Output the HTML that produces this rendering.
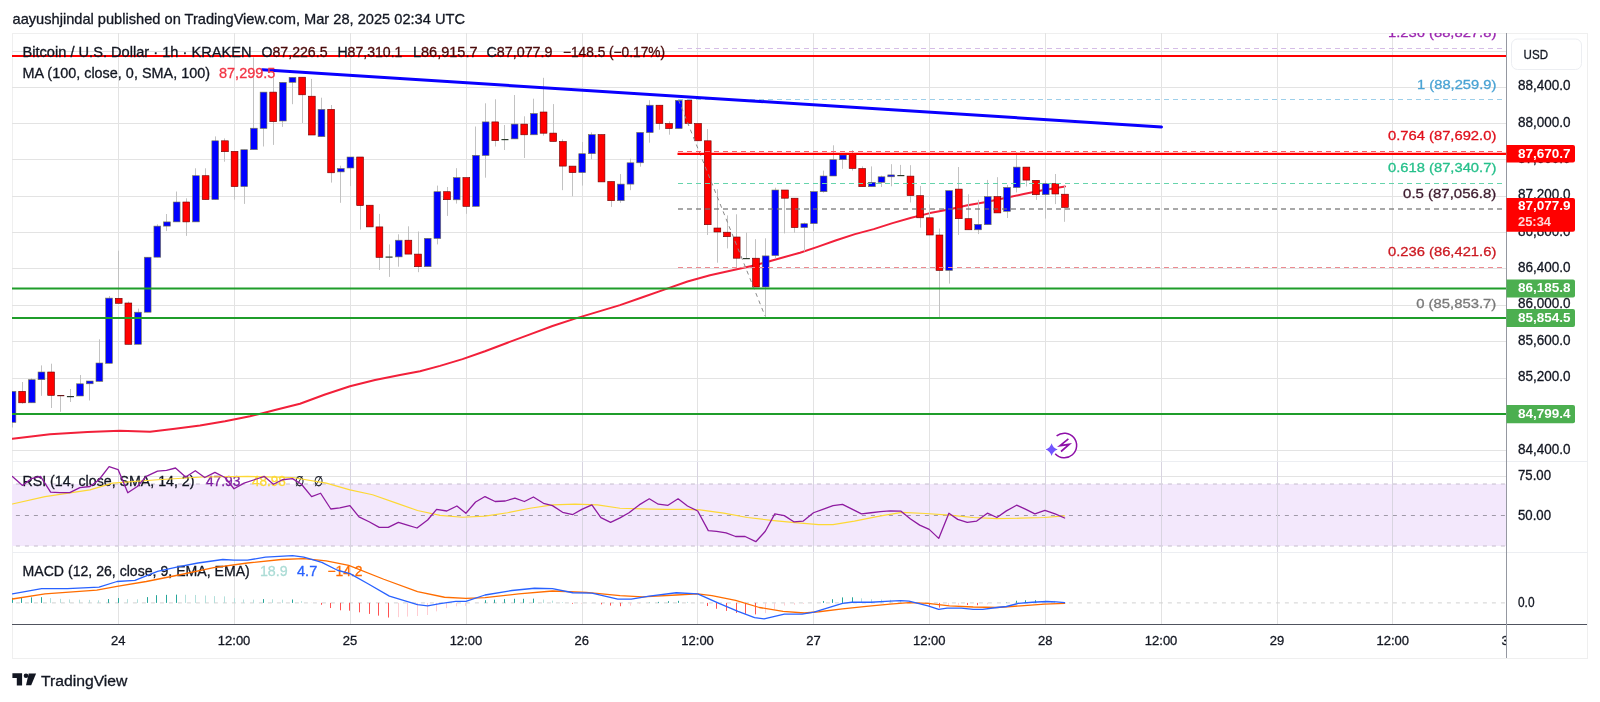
<!DOCTYPE html>
<html><head><meta charset="utf-8"><title>TradingView BTCUSD</title>
<style>html,body{margin:0;padding:0;background:#fff;width:1600px;height:702px;overflow:hidden}</style>
</head><body>
<svg width="1600" height="702" viewBox="0 0 1600 702" style="display:block;font-family:'Liberation Sans', sans-serif;will-change:transform">
<defs>
<clipPath id="main"><rect x="12" y="33" width="1494.5" height="428.5"/></clipPath>
<clipPath id="rsi"><rect x="12" y="461.5" width="1494.5" height="91.0"/></clipPath>
<clipPath id="macd"><rect x="12" y="552.5" width="1494.5" height="72.0"/></clipPath>
<clipPath id="taxis"><rect x="12" y="624.5" width="1494.5" height="33.5"/></clipPath>
</defs>
<rect width="1600" height="702" fill="#ffffff"/>
<text x="12.5" y="23.8" font-size="14.5" fill="#131722" stroke="#131722" stroke-width="0.3" text-anchor="start" font-weight="normal" textLength="452.5" lengthAdjust="spacingAndGlyphs">aayushjindal published on TradingView.com, Mar 28, 2025 02:34 UTC</text>
<rect x="12.5" y="33.5" width="1575" height="625" fill="none" stroke="#efefef" stroke-width="1"/>
<line x1="12" y1="51.5" x2="1506.5" y2="51.5" stroke="#e3e3e3" stroke-width="1"/>
<line x1="12" y1="87.5" x2="1506.5" y2="87.5" stroke="#e3e3e3" stroke-width="1"/>
<line x1="12" y1="123.5" x2="1506.5" y2="123.5" stroke="#e3e3e3" stroke-width="1"/>
<line x1="12" y1="159.5" x2="1506.5" y2="159.5" stroke="#e3e3e3" stroke-width="1"/>
<line x1="12" y1="196.5" x2="1506.5" y2="196.5" stroke="#e3e3e3" stroke-width="1"/>
<line x1="12" y1="232.5" x2="1506.5" y2="232.5" stroke="#e3e3e3" stroke-width="1"/>
<line x1="12" y1="268.5" x2="1506.5" y2="268.5" stroke="#e3e3e3" stroke-width="1"/>
<line x1="12" y1="305.5" x2="1506.5" y2="305.5" stroke="#e3e3e3" stroke-width="1"/>
<line x1="12" y1="341.5" x2="1506.5" y2="341.5" stroke="#e3e3e3" stroke-width="1"/>
<line x1="12" y1="378.5" x2="1506.5" y2="378.5" stroke="#e3e3e3" stroke-width="1"/>
<line x1="12" y1="414.5" x2="1506.5" y2="414.5" stroke="#e3e3e3" stroke-width="1"/>
<line x1="12" y1="450.5" x2="1506.5" y2="450.5" stroke="#e3e3e3" stroke-width="1"/>
<line x1="118.5" y1="33" x2="118.5" y2="624.5" stroke="#e3e3e3" stroke-width="1"/>
<line x1="234.5" y1="33" x2="234.5" y2="624.5" stroke="#e3e3e3" stroke-width="1"/>
<line x1="350.5" y1="33" x2="350.5" y2="624.5" stroke="#e3e3e3" stroke-width="1"/>
<line x1="466.5" y1="33" x2="466.5" y2="624.5" stroke="#e3e3e3" stroke-width="1"/>
<line x1="582.5" y1="33" x2="582.5" y2="624.5" stroke="#e3e3e3" stroke-width="1"/>
<line x1="697.5" y1="33" x2="697.5" y2="624.5" stroke="#e3e3e3" stroke-width="1"/>
<line x1="813.5" y1="33" x2="813.5" y2="624.5" stroke="#e3e3e3" stroke-width="1"/>
<line x1="929.5" y1="33" x2="929.5" y2="624.5" stroke="#e3e3e3" stroke-width="1"/>
<line x1="1045.5" y1="33" x2="1045.5" y2="624.5" stroke="#e3e3e3" stroke-width="1"/>
<line x1="1161.5" y1="33" x2="1161.5" y2="624.5" stroke="#e3e3e3" stroke-width="1"/>
<line x1="1277.5" y1="33" x2="1277.5" y2="624.5" stroke="#e3e3e3" stroke-width="1"/>
<line x1="1392.5" y1="33" x2="1392.5" y2="624.5" stroke="#e3e3e3" stroke-width="1"/>
<line x1="12" y1="476.5" x2="1506.5" y2="476.5" stroke="#e3e3e3" stroke-width="1"/>
<line x1="12" y1="461.5" x2="1588" y2="461.5" stroke="#eceef2" stroke-width="1"/>
<line x1="12" y1="552.5" x2="1588" y2="552.5" stroke="#eceef2" stroke-width="1"/>
<g clip-path="url(#main)">
<polyline points="12.50,438.75 50.00,434.25 87.50,432.00 120.00,430.75 150.00,431.75 175.00,428.75 200.00,425.50 225.00,421.25 250.00,416.25 262.50,413.25 275.00,410.00 300.00,403.75 325.00,394.50 350.00,386.25 375.00,380.00 400.00,375.00 420.00,371.20 440.00,365.90 462.50,359.10 485.00,351.25 507.50,342.70 530.00,334.40 552.50,326.05 575.00,318.60 597.50,311.90 620.00,305.10 642.50,297.25 665.00,289.40 687.50,281.50 710.00,275.20 732.50,270.25 755.00,265.30 777.50,259.00 800.00,252.70 817.50,246.90 836.25,240.30 855.00,234.10 873.75,229.10 892.50,223.10 911.25,217.80 930.00,213.10 948.75,209.40 967.50,205.25 986.25,201.90 1005.00,198.10 1023.75,194.00 1042.50,190.25 1065.00,186.50" fill="none" stroke="#f2203a" stroke-width="2.0" stroke-linejoin="round" stroke-linecap="round"/>
<line x1="12.5" y1="391.3" x2="12.5" y2="427.5" stroke="#c2c2c2" stroke-width="1"/>
<rect x="9.08" y="391.3" width="6.8" height="31.10" fill="#0000ff" stroke="#7d7d48" stroke-width="0.6"/>
<line x1="22.5" y1="382.0" x2="22.5" y2="403.7" stroke="#c2c2c2" stroke-width="1"/>
<rect x="18.74" y="391.3" width="6.8" height="11.50" fill="#ff0000" stroke="#6a0000" stroke-width="0.6"/>
<line x1="31.5" y1="378.2" x2="31.5" y2="402.8" stroke="#c2c2c2" stroke-width="1"/>
<rect x="28.40" y="379.7" width="6.8" height="23.10" fill="#0000ff" stroke="#7d7d48" stroke-width="0.6"/>
<line x1="41.5" y1="365.4" x2="41.5" y2="395.8" stroke="#c2c2c2" stroke-width="1"/>
<rect x="38.05" y="372.0" width="6.8" height="7.70" fill="#0000ff" stroke="#7d7d48" stroke-width="0.6"/>
<line x1="51.5" y1="363.7" x2="51.5" y2="408.0" stroke="#c2c2c2" stroke-width="1"/>
<rect x="47.71" y="372.0" width="6.8" height="23.40" fill="#ff0000" stroke="#6a0000" stroke-width="0.6"/>
<line x1="60.5" y1="395.0" x2="60.5" y2="411.8" stroke="#c2c2c2" stroke-width="1"/>
<rect x="57.26" y="395.0" width="7" height="1.2" fill="#6a1a1a"/>
<line x1="70.5" y1="389.0" x2="70.5" y2="402.0" stroke="#c2c2c2" stroke-width="1"/>
<rect x="66.92" y="396.0" width="7" height="1.2" fill="#2b3b2b"/>
<line x1="80.5" y1="375.0" x2="80.5" y2="396.0" stroke="#c2c2c2" stroke-width="1"/>
<rect x="76.68" y="383.8" width="6.8" height="12.20" fill="#0000ff" stroke="#7d7d48" stroke-width="0.6"/>
<line x1="89.5" y1="381.0" x2="89.5" y2="400.5" stroke="#c2c2c2" stroke-width="1"/>
<rect x="86.33" y="381.0" width="6.8" height="2.80" fill="#0000ff" stroke="#7d7d48" stroke-width="0.6"/>
<line x1="99.5" y1="339.3" x2="99.5" y2="381.4" stroke="#c2c2c2" stroke-width="1"/>
<rect x="95.99" y="363.0" width="6.8" height="18.40" fill="#0000ff" stroke="#7d7d48" stroke-width="0.6"/>
<line x1="109.5" y1="296.0" x2="109.5" y2="363.3" stroke="#c2c2c2" stroke-width="1"/>
<rect x="105.64" y="298.1" width="6.8" height="65.20" fill="#0000ff" stroke="#7d7d48" stroke-width="0.6"/>
<line x1="118.5" y1="250.7" x2="118.5" y2="303.3" stroke="#c2c2c2" stroke-width="1"/>
<rect x="115.30" y="298.3" width="6.8" height="5.00" fill="#ff0000" stroke="#6a0000" stroke-width="0.6"/>
<line x1="128.5" y1="301.6" x2="128.5" y2="344.3" stroke="#c2c2c2" stroke-width="1"/>
<rect x="124.96" y="303.0" width="6.8" height="41.30" fill="#ff0000" stroke="#6a0000" stroke-width="0.6"/>
<line x1="138.5" y1="308.6" x2="138.5" y2="344.3" stroke="#c2c2c2" stroke-width="1"/>
<rect x="134.61" y="312.2" width="6.8" height="32.10" fill="#0000ff" stroke="#7d7d48" stroke-width="0.6"/>
<line x1="147.5" y1="257.0" x2="147.5" y2="312.2" stroke="#c2c2c2" stroke-width="1"/>
<rect x="144.27" y="257.2" width="6.8" height="55.00" fill="#0000ff" stroke="#7d7d48" stroke-width="0.6"/>
<line x1="157.5" y1="224.3" x2="157.5" y2="257.2" stroke="#c2c2c2" stroke-width="1"/>
<rect x="153.92" y="226.1" width="6.8" height="31.10" fill="#0000ff" stroke="#7d7d48" stroke-width="0.6"/>
<line x1="166.5" y1="214.0" x2="166.5" y2="231.1" stroke="#c2c2c2" stroke-width="1"/>
<rect x="163.58" y="221.9" width="6.8" height="4.20" fill="#0000ff" stroke="#7d7d48" stroke-width="0.6"/>
<line x1="176.5" y1="191.5" x2="176.5" y2="221.9" stroke="#c2c2c2" stroke-width="1"/>
<rect x="173.24" y="202.0" width="6.8" height="19.90" fill="#0000ff" stroke="#7d7d48" stroke-width="0.6"/>
<line x1="186.5" y1="198.3" x2="186.5" y2="235.9" stroke="#c2c2c2" stroke-width="1"/>
<rect x="182.89" y="202.0" width="6.8" height="19.90" fill="#ff0000" stroke="#6a0000" stroke-width="0.6"/>
<line x1="195.5" y1="168.3" x2="195.5" y2="221.9" stroke="#c2c2c2" stroke-width="1"/>
<rect x="192.55" y="175.7" width="6.8" height="46.20" fill="#0000ff" stroke="#7d7d48" stroke-width="0.6"/>
<line x1="205.5" y1="168.3" x2="205.5" y2="199.6" stroke="#c2c2c2" stroke-width="1"/>
<rect x="202.20" y="175.7" width="6.8" height="23.90" fill="#ff0000" stroke="#6a0000" stroke-width="0.6"/>
<line x1="215.5" y1="136.4" x2="215.5" y2="199.6" stroke="#c2c2c2" stroke-width="1"/>
<rect x="211.86" y="140.8" width="6.8" height="58.80" fill="#0000ff" stroke="#7d7d48" stroke-width="0.6"/>
<line x1="224.5" y1="138.4" x2="224.5" y2="161.7" stroke="#c2c2c2" stroke-width="1"/>
<rect x="221.52" y="140.8" width="6.8" height="10.90" fill="#ff0000" stroke="#6a0000" stroke-width="0.6"/>
<line x1="234.5" y1="151.3" x2="234.5" y2="199.6" stroke="#c2c2c2" stroke-width="1"/>
<rect x="231.17" y="151.3" width="6.8" height="35.30" fill="#ff0000" stroke="#6a0000" stroke-width="0.6"/>
<line x1="244.5" y1="149.7" x2="244.5" y2="203.9" stroke="#c2c2c2" stroke-width="1"/>
<rect x="240.83" y="149.7" width="6.8" height="36.90" fill="#0000ff" stroke="#7d7d48" stroke-width="0.6"/>
<line x1="253.5" y1="57.3" x2="253.5" y2="149.7" stroke="#c2c2c2" stroke-width="1"/>
<rect x="250.48" y="128.2" width="6.8" height="21.50" fill="#0000ff" stroke="#7d7d48" stroke-width="0.6"/>
<line x1="263.5" y1="92.1" x2="263.5" y2="146.5" stroke="#c2c2c2" stroke-width="1"/>
<rect x="260.14" y="92.1" width="6.8" height="36.40" fill="#0000ff" stroke="#7d7d48" stroke-width="0.6"/>
<line x1="273.5" y1="77.6" x2="273.5" y2="144.9" stroke="#c2c2c2" stroke-width="1"/>
<rect x="269.80" y="92.1" width="6.8" height="29.60" fill="#ff0000" stroke="#6a0000" stroke-width="0.6"/>
<line x1="282.5" y1="82.3" x2="282.5" y2="126.9" stroke="#c2c2c2" stroke-width="1"/>
<rect x="279.45" y="82.3" width="6.8" height="38.70" fill="#0000ff" stroke="#7d7d48" stroke-width="0.6"/>
<line x1="292.5" y1="77.3" x2="292.5" y2="104.2" stroke="#c2c2c2" stroke-width="1"/>
<rect x="289.11" y="77.3" width="6.8" height="5.00" fill="#0000ff" stroke="#7d7d48" stroke-width="0.6"/>
<line x1="302.5" y1="77.2" x2="302.5" y2="123.0" stroke="#c2c2c2" stroke-width="1"/>
<rect x="298.76" y="77.2" width="6.8" height="17.60" fill="#ff0000" stroke="#6a0000" stroke-width="0.6"/>
<line x1="311.5" y1="78.9" x2="311.5" y2="135.0" stroke="#c2c2c2" stroke-width="1"/>
<rect x="308.42" y="96.2" width="6.8" height="38.80" fill="#ff0000" stroke="#6a0000" stroke-width="0.6"/>
<line x1="321.5" y1="97.7" x2="321.5" y2="136.7" stroke="#c2c2c2" stroke-width="1"/>
<rect x="318.08" y="109.3" width="6.8" height="27.40" fill="#0000ff" stroke="#7d7d48" stroke-width="0.6"/>
<line x1="331.5" y1="105.0" x2="331.5" y2="182.6" stroke="#c2c2c2" stroke-width="1"/>
<rect x="327.73" y="109.3" width="6.8" height="63.50" fill="#ff0000" stroke="#6a0000" stroke-width="0.6"/>
<line x1="340.5" y1="165.7" x2="340.5" y2="202.8" stroke="#c2c2c2" stroke-width="1"/>
<rect x="337.39" y="168.5" width="6.8" height="3.40" fill="#0000ff" stroke="#7d7d48" stroke-width="0.6"/>
<line x1="350.5" y1="157.0" x2="350.5" y2="186.1" stroke="#c2c2c2" stroke-width="1"/>
<rect x="347.04" y="157.0" width="6.8" height="11.00" fill="#0000ff" stroke="#7d7d48" stroke-width="0.6"/>
<line x1="360.5" y1="157.0" x2="360.5" y2="229.6" stroke="#c2c2c2" stroke-width="1"/>
<rect x="356.70" y="157.0" width="6.8" height="48.60" fill="#ff0000" stroke="#6a0000" stroke-width="0.6"/>
<line x1="369.5" y1="205.2" x2="369.5" y2="226.9" stroke="#c2c2c2" stroke-width="1"/>
<rect x="366.36" y="205.2" width="6.8" height="21.70" fill="#ff0000" stroke="#6a0000" stroke-width="0.6"/>
<line x1="379.5" y1="213.9" x2="379.5" y2="270.0" stroke="#c2c2c2" stroke-width="1"/>
<rect x="376.01" y="226.9" width="6.8" height="30.50" fill="#ff0000" stroke="#6a0000" stroke-width="0.6"/>
<line x1="389.5" y1="244.4" x2="389.5" y2="276.9" stroke="#c2c2c2" stroke-width="1"/>
<rect x="385.57" y="256.5" width="7" height="1.2" fill="#2b3b2b"/>
<line x1="398.5" y1="234.3" x2="398.5" y2="266.7" stroke="#c2c2c2" stroke-width="1"/>
<rect x="395.32" y="240.2" width="6.8" height="16.70" fill="#0000ff" stroke="#7d7d48" stroke-width="0.6"/>
<line x1="408.5" y1="226.3" x2="408.5" y2="254.1" stroke="#c2c2c2" stroke-width="1"/>
<rect x="404.98" y="240.2" width="6.8" height="13.90" fill="#ff0000" stroke="#6a0000" stroke-width="0.6"/>
<line x1="418.5" y1="231.5" x2="418.5" y2="272.2" stroke="#c2c2c2" stroke-width="1"/>
<rect x="414.64" y="254.1" width="6.8" height="12.60" fill="#ff0000" stroke="#6a0000" stroke-width="0.6"/>
<line x1="427.5" y1="238.3" x2="427.5" y2="266.7" stroke="#c2c2c2" stroke-width="1"/>
<rect x="424.29" y="238.3" width="6.8" height="28.40" fill="#0000ff" stroke="#7d7d48" stroke-width="0.6"/>
<line x1="437.5" y1="185.6" x2="437.5" y2="244.4" stroke="#c2c2c2" stroke-width="1"/>
<rect x="433.95" y="191.7" width="6.8" height="46.80" fill="#0000ff" stroke="#7d7d48" stroke-width="0.6"/>
<line x1="447.5" y1="187.0" x2="447.5" y2="215.9" stroke="#c2c2c2" stroke-width="1"/>
<rect x="443.60" y="191.7" width="6.8" height="8.00" fill="#ff0000" stroke="#6a0000" stroke-width="0.6"/>
<line x1="456.5" y1="168.2" x2="456.5" y2="203.6" stroke="#c2c2c2" stroke-width="1"/>
<rect x="453.26" y="177.6" width="6.8" height="22.20" fill="#0000ff" stroke="#7d7d48" stroke-width="0.6"/>
<line x1="466.5" y1="177.6" x2="466.5" y2="213.8" stroke="#c2c2c2" stroke-width="1"/>
<rect x="462.92" y="177.6" width="6.8" height="28.80" fill="#ff0000" stroke="#6a0000" stroke-width="0.6"/>
<line x1="475.5" y1="126.5" x2="475.5" y2="206.4" stroke="#c2c2c2" stroke-width="1"/>
<rect x="472.57" y="155.3" width="6.8" height="51.10" fill="#0000ff" stroke="#7d7d48" stroke-width="0.6"/>
<line x1="485.5" y1="103.3" x2="485.5" y2="177.7" stroke="#c2c2c2" stroke-width="1"/>
<rect x="482.23" y="121.9" width="6.8" height="33.60" fill="#0000ff" stroke="#7d7d48" stroke-width="0.6"/>
<line x1="495.5" y1="99.3" x2="495.5" y2="146.5" stroke="#c2c2c2" stroke-width="1"/>
<rect x="491.88" y="121.9" width="6.8" height="18.80" fill="#ff0000" stroke="#6a0000" stroke-width="0.6"/>
<line x1="504.5" y1="125.0" x2="504.5" y2="150.0" stroke="#c2c2c2" stroke-width="1"/>
<rect x="501.44" y="139.0" width="7" height="1.2" fill="#2b3b2b"/>
<line x1="514.5" y1="95.0" x2="514.5" y2="138.9" stroke="#c2c2c2" stroke-width="1"/>
<rect x="511.20" y="124.1" width="6.8" height="14.80" fill="#0000ff" stroke="#7d7d48" stroke-width="0.6"/>
<line x1="524.5" y1="116.3" x2="524.5" y2="158.0" stroke="#c2c2c2" stroke-width="1"/>
<rect x="520.85" y="124.1" width="6.8" height="10.70" fill="#ff0000" stroke="#6a0000" stroke-width="0.6"/>
<line x1="533.5" y1="98.7" x2="533.5" y2="134.8" stroke="#c2c2c2" stroke-width="1"/>
<rect x="530.51" y="113.5" width="6.8" height="21.30" fill="#0000ff" stroke="#7d7d48" stroke-width="0.6"/>
<line x1="543.5" y1="77.8" x2="543.5" y2="135.7" stroke="#c2c2c2" stroke-width="1"/>
<rect x="540.16" y="112.0" width="6.8" height="21.20" fill="#ff0000" stroke="#6a0000" stroke-width="0.6"/>
<line x1="553.5" y1="104.1" x2="553.5" y2="141.5" stroke="#c2c2c2" stroke-width="1"/>
<rect x="549.82" y="133.1" width="6.8" height="8.40" fill="#ff0000" stroke="#6a0000" stroke-width="0.6"/>
<line x1="562.5" y1="139.3" x2="562.5" y2="190.2" stroke="#c2c2c2" stroke-width="1"/>
<rect x="559.48" y="141.5" width="6.8" height="24.60" fill="#ff0000" stroke="#6a0000" stroke-width="0.6"/>
<line x1="572.5" y1="166.1" x2="572.5" y2="196.3" stroke="#c2c2c2" stroke-width="1"/>
<rect x="569.13" y="166.1" width="6.8" height="6.50" fill="#ff0000" stroke="#6a0000" stroke-width="0.6"/>
<line x1="582.5" y1="142.0" x2="582.5" y2="185.6" stroke="#c2c2c2" stroke-width="1"/>
<rect x="578.79" y="153.7" width="6.8" height="18.90" fill="#0000ff" stroke="#7d7d48" stroke-width="0.6"/>
<line x1="591.5" y1="132.4" x2="591.5" y2="159.3" stroke="#c2c2c2" stroke-width="1"/>
<rect x="588.44" y="134.6" width="6.8" height="19.10" fill="#0000ff" stroke="#7d7d48" stroke-width="0.6"/>
<line x1="601.5" y1="134.6" x2="601.5" y2="181.9" stroke="#c2c2c2" stroke-width="1"/>
<rect x="598.10" y="134.6" width="6.8" height="47.30" fill="#ff0000" stroke="#6a0000" stroke-width="0.6"/>
<line x1="611.5" y1="181.5" x2="611.5" y2="206.9" stroke="#c2c2c2" stroke-width="1"/>
<rect x="607.76" y="181.5" width="6.8" height="19.20" fill="#ff0000" stroke="#6a0000" stroke-width="0.6"/>
<line x1="620.5" y1="174.0" x2="620.5" y2="202.8" stroke="#c2c2c2" stroke-width="1"/>
<rect x="617.41" y="184.1" width="6.8" height="16.60" fill="#0000ff" stroke="#7d7d48" stroke-width="0.6"/>
<line x1="630.5" y1="158.7" x2="630.5" y2="190.2" stroke="#c2c2c2" stroke-width="1"/>
<rect x="627.07" y="162.8" width="6.8" height="21.30" fill="#0000ff" stroke="#7d7d48" stroke-width="0.6"/>
<line x1="640.5" y1="132.4" x2="640.5" y2="166.7" stroke="#c2c2c2" stroke-width="1"/>
<rect x="636.72" y="132.4" width="6.8" height="30.40" fill="#0000ff" stroke="#7d7d48" stroke-width="0.6"/>
<line x1="649.5" y1="100.2" x2="649.5" y2="142.7" stroke="#c2c2c2" stroke-width="1"/>
<rect x="646.38" y="105.2" width="6.8" height="27.40" fill="#0000ff" stroke="#7d7d48" stroke-width="0.6"/>
<line x1="659.5" y1="105.2" x2="659.5" y2="129.7" stroke="#c2c2c2" stroke-width="1"/>
<rect x="656.04" y="105.2" width="6.8" height="18.30" fill="#ff0000" stroke="#6a0000" stroke-width="0.6"/>
<line x1="669.5" y1="121.3" x2="669.5" y2="134.7" stroke="#c2c2c2" stroke-width="1"/>
<rect x="665.69" y="123.5" width="6.8" height="5.10" fill="#ff0000" stroke="#6a0000" stroke-width="0.6"/>
<line x1="678.5" y1="100.3" x2="678.5" y2="128.6" stroke="#c2c2c2" stroke-width="1"/>
<rect x="675.35" y="100.3" width="6.8" height="28.30" fill="#0000ff" stroke="#7d7d48" stroke-width="0.6"/>
<line x1="688.5" y1="100.3" x2="688.5" y2="123.5" stroke="#c2c2c2" stroke-width="1"/>
<rect x="685.00" y="100.3" width="6.8" height="23.20" fill="#ff0000" stroke="#6a0000" stroke-width="0.6"/>
<line x1="698.5" y1="123.5" x2="698.5" y2="140.8" stroke="#c2c2c2" stroke-width="1"/>
<rect x="694.66" y="123.5" width="6.8" height="17.30" fill="#ff0000" stroke="#6a0000" stroke-width="0.6"/>
<line x1="707.5" y1="129.0" x2="707.5" y2="235.0" stroke="#c2c2c2" stroke-width="1"/>
<rect x="704.32" y="140.8" width="6.8" height="83.90" fill="#ff0000" stroke="#6a0000" stroke-width="0.6"/>
<line x1="717.5" y1="189.2" x2="717.5" y2="262.7" stroke="#c2c2c2" stroke-width="1"/>
<rect x="713.97" y="228.0" width="6.8" height="4.00" fill="#ff0000" stroke="#6a0000" stroke-width="0.6"/>
<line x1="727.5" y1="215.4" x2="727.5" y2="248.4" stroke="#c2c2c2" stroke-width="1"/>
<rect x="723.63" y="232.2" width="6.8" height="4.50" fill="#ff0000" stroke="#6a0000" stroke-width="0.6"/>
<line x1="736.5" y1="214.3" x2="736.5" y2="267.6" stroke="#c2c2c2" stroke-width="1"/>
<rect x="733.28" y="237.0" width="6.8" height="21.20" fill="#ff0000" stroke="#6a0000" stroke-width="0.6"/>
<line x1="746.5" y1="232.7" x2="746.5" y2="259.0" stroke="#c2c2c2" stroke-width="1"/>
<rect x="742.84" y="258.0" width="7" height="1.2" fill="#2b3b2b"/>
<line x1="755.5" y1="239.2" x2="755.5" y2="287.0" stroke="#c2c2c2" stroke-width="1"/>
<rect x="752.60" y="258.2" width="6.8" height="28.80" fill="#ff0000" stroke="#6a0000" stroke-width="0.6"/>
<line x1="765.5" y1="238.3" x2="765.5" y2="317.0" stroke="#c2c2c2" stroke-width="1"/>
<rect x="762.25" y="255.9" width="6.8" height="31.10" fill="#0000ff" stroke="#7d7d48" stroke-width="0.6"/>
<line x1="775.5" y1="187.7" x2="775.5" y2="258.6" stroke="#c2c2c2" stroke-width="1"/>
<rect x="771.91" y="190.0" width="6.8" height="65.60" fill="#0000ff" stroke="#7d7d48" stroke-width="0.6"/>
<line x1="784.5" y1="190.0" x2="784.5" y2="233.4" stroke="#c2c2c2" stroke-width="1"/>
<rect x="781.56" y="190.0" width="6.8" height="8.20" fill="#ff0000" stroke="#6a0000" stroke-width="0.6"/>
<line x1="794.5" y1="198.2" x2="794.5" y2="232.7" stroke="#c2c2c2" stroke-width="1"/>
<rect x="791.22" y="198.2" width="6.8" height="29.40" fill="#ff0000" stroke="#6a0000" stroke-width="0.6"/>
<line x1="804.5" y1="222.5" x2="804.5" y2="251.4" stroke="#c2c2c2" stroke-width="1"/>
<rect x="800.88" y="223.7" width="6.8" height="3.90" fill="#0000ff" stroke="#7d7d48" stroke-width="0.6"/>
<line x1="813.5" y1="191.6" x2="813.5" y2="231.2" stroke="#c2c2c2" stroke-width="1"/>
<rect x="810.53" y="191.6" width="6.8" height="32.00" fill="#0000ff" stroke="#7d7d48" stroke-width="0.6"/>
<line x1="823.5" y1="170.6" x2="823.5" y2="192.7" stroke="#c2c2c2" stroke-width="1"/>
<rect x="820.19" y="176.0" width="6.8" height="15.70" fill="#0000ff" stroke="#7d7d48" stroke-width="0.6"/>
<line x1="833.5" y1="145.3" x2="833.5" y2="176.0" stroke="#c2c2c2" stroke-width="1"/>
<rect x="829.84" y="159.7" width="6.8" height="16.30" fill="#0000ff" stroke="#7d7d48" stroke-width="0.6"/>
<line x1="842.5" y1="154.0" x2="842.5" y2="168.8" stroke="#c2c2c2" stroke-width="1"/>
<rect x="839.50" y="155.0" width="6.8" height="4.70" fill="#0000ff" stroke="#7d7d48" stroke-width="0.6"/>
<line x1="852.5" y1="150.0" x2="852.5" y2="170.6" stroke="#c2c2c2" stroke-width="1"/>
<rect x="849.16" y="154.2" width="6.8" height="14.30" fill="#ff0000" stroke="#6a0000" stroke-width="0.6"/>
<line x1="862.5" y1="166.4" x2="862.5" y2="186.7" stroke="#c2c2c2" stroke-width="1"/>
<rect x="858.81" y="168.5" width="6.8" height="18.20" fill="#ff0000" stroke="#6a0000" stroke-width="0.6"/>
<line x1="871.5" y1="166.4" x2="871.5" y2="186.7" stroke="#c2c2c2" stroke-width="1"/>
<rect x="868.47" y="182.3" width="6.8" height="4.40" fill="#0000ff" stroke="#7d7d48" stroke-width="0.6"/>
<line x1="881.5" y1="175.6" x2="881.5" y2="187.0" stroke="#c2c2c2" stroke-width="1"/>
<rect x="878.12" y="176.8" width="6.8" height="5.50" fill="#0000ff" stroke="#7d7d48" stroke-width="0.6"/>
<line x1="891.5" y1="164.2" x2="891.5" y2="186.3" stroke="#c2c2c2" stroke-width="1"/>
<rect x="887.78" y="174.9" width="6.8" height="1.90" fill="#0000ff" stroke="#7d7d48" stroke-width="0.6"/>
<line x1="900.5" y1="164.9" x2="900.5" y2="176.0" stroke="#c2c2c2" stroke-width="1"/>
<rect x="897.34" y="175.0" width="7" height="1.2" fill="#2b3b2b"/>
<line x1="910.5" y1="165.2" x2="910.5" y2="202.5" stroke="#c2c2c2" stroke-width="1"/>
<rect x="907.09" y="176.1" width="6.8" height="19.50" fill="#ff0000" stroke="#6a0000" stroke-width="0.6"/>
<line x1="920.5" y1="185.9" x2="920.5" y2="227.6" stroke="#c2c2c2" stroke-width="1"/>
<rect x="916.75" y="195.6" width="6.8" height="22.20" fill="#ff0000" stroke="#6a0000" stroke-width="0.6"/>
<line x1="929.5" y1="204.4" x2="929.5" y2="235.0" stroke="#c2c2c2" stroke-width="1"/>
<rect x="926.40" y="217.8" width="6.8" height="17.20" fill="#ff0000" stroke="#6a0000" stroke-width="0.6"/>
<line x1="939.5" y1="228.5" x2="939.5" y2="317.2" stroke="#c2c2c2" stroke-width="1"/>
<rect x="936.06" y="235.0" width="6.8" height="35.50" fill="#ff0000" stroke="#6a0000" stroke-width="0.6"/>
<line x1="949.5" y1="190.6" x2="949.5" y2="283.6" stroke="#c2c2c2" stroke-width="1"/>
<rect x="945.72" y="190.6" width="6.8" height="79.90" fill="#0000ff" stroke="#7d7d48" stroke-width="0.6"/>
<line x1="958.5" y1="167.0" x2="958.5" y2="235.0" stroke="#c2c2c2" stroke-width="1"/>
<rect x="955.37" y="189.1" width="6.8" height="29.60" fill="#ff0000" stroke="#6a0000" stroke-width="0.6"/>
<line x1="968.5" y1="194.3" x2="968.5" y2="229.8" stroke="#c2c2c2" stroke-width="1"/>
<rect x="965.03" y="218.7" width="6.8" height="11.10" fill="#ff0000" stroke="#6a0000" stroke-width="0.6"/>
<line x1="978.5" y1="199.8" x2="978.5" y2="234.1" stroke="#c2c2c2" stroke-width="1"/>
<rect x="974.68" y="224.3" width="6.8" height="5.50" fill="#0000ff" stroke="#7d7d48" stroke-width="0.6"/>
<line x1="987.5" y1="179.9" x2="987.5" y2="224.7" stroke="#c2c2c2" stroke-width="1"/>
<rect x="984.34" y="196.6" width="6.8" height="28.10" fill="#0000ff" stroke="#7d7d48" stroke-width="0.6"/>
<line x1="997.5" y1="177.2" x2="997.5" y2="212.9" stroke="#c2c2c2" stroke-width="1"/>
<rect x="994.00" y="196.6" width="6.8" height="16.30" fill="#ff0000" stroke="#6a0000" stroke-width="0.6"/>
<line x1="1007.5" y1="184.9" x2="1007.5" y2="218.0" stroke="#c2c2c2" stroke-width="1"/>
<rect x="1003.65" y="187.4" width="6.8" height="23.90" fill="#0000ff" stroke="#7d7d48" stroke-width="0.6"/>
<line x1="1016.5" y1="152.4" x2="1016.5" y2="192.4" stroke="#c2c2c2" stroke-width="1"/>
<rect x="1013.31" y="167.1" width="6.8" height="20.50" fill="#0000ff" stroke="#7d7d48" stroke-width="0.6"/>
<line x1="1026.5" y1="167.1" x2="1026.5" y2="186.5" stroke="#c2c2c2" stroke-width="1"/>
<rect x="1022.96" y="167.1" width="6.8" height="13.00" fill="#ff0000" stroke="#6a0000" stroke-width="0.6"/>
<line x1="1036.5" y1="180.3" x2="1036.5" y2="199.9" stroke="#c2c2c2" stroke-width="1"/>
<rect x="1032.62" y="180.3" width="6.8" height="14.40" fill="#ff0000" stroke="#6a0000" stroke-width="0.6"/>
<line x1="1045.5" y1="180.6" x2="1045.5" y2="218.6" stroke="#c2c2c2" stroke-width="1"/>
<rect x="1042.28" y="183.5" width="6.8" height="11.20" fill="#0000ff" stroke="#7d7d48" stroke-width="0.6"/>
<line x1="1055.5" y1="174.0" x2="1055.5" y2="204.1" stroke="#c2c2c2" stroke-width="1"/>
<rect x="1051.93" y="183.5" width="6.8" height="10.50" fill="#ff0000" stroke="#6a0000" stroke-width="0.6"/>
<line x1="1064.5" y1="186.0" x2="1064.5" y2="221.8" stroke="#c2c2c2" stroke-width="1"/>
<rect x="1061.59" y="194.2" width="6.8" height="13.20" fill="#ff0000" stroke="#6a0000" stroke-width="0.6"/>
<line x1="678" y1="48.5" x2="1506.5" y2="48.5" stroke="#d5bde6" stroke-width="1.2" stroke-dasharray="5 4"/>
<text x="1388.0" y="36.5" font-size="13.3" fill="#9c27b0" stroke="#9c27b0" stroke-width="0.3" text-anchor="start" font-weight="normal" textLength="108.3" lengthAdjust="spacingAndGlyphs">1.236 (88,827.8)</text>
<line x1="678" y1="99.5" x2="1506.5" y2="99.5" stroke="#9dcfea" stroke-width="1.2" stroke-dasharray="5 4"/>
<text x="1417.1" y="89" font-size="13.3" fill="#4aa3d4" stroke="#4aa3d4" stroke-width="0.3" text-anchor="start" font-weight="normal" textLength="79.2" lengthAdjust="spacingAndGlyphs">1 (88,259.9)</text>
<line x1="678" y1="151.5" x2="1506.5" y2="151.5" stroke="#f0606a" stroke-width="1.2" stroke-dasharray="5 4"/>
<text x="1388.0" y="139.5" font-size="13.3" fill="#e0101c" stroke="#e0101c" stroke-width="0.3" text-anchor="start" font-weight="normal" textLength="108.3" lengthAdjust="spacingAndGlyphs">0.764 (87,692.0)</text>
<line x1="678" y1="183.5" x2="1506.5" y2="183.5" stroke="#66d4ac" stroke-width="1.2" stroke-dasharray="5 4"/>
<text x="1388.0" y="172" font-size="13.3" fill="#26c08b" stroke="#26c08b" stroke-width="0.3" text-anchor="start" font-weight="normal" textLength="108.3" lengthAdjust="spacingAndGlyphs">0.618 (87,340.7)</text>
<line x1="678" y1="209.0" x2="1506.5" y2="209.0" stroke="#6e6e6e" stroke-opacity="0.6" stroke-width="1.8" stroke-dasharray="5 4"/>
<text x="1403.1" y="197.5" font-size="13.3" fill="#3d1a2e" stroke="#3d1a2e" stroke-width="0.3" text-anchor="start" font-weight="normal" textLength="93.2" lengthAdjust="spacingAndGlyphs">0.5 (87,056.8)</text>
<line x1="678" y1="267.5" x2="1506.5" y2="267.5" stroke="#ec8a90" stroke-width="1.2" stroke-dasharray="5 4"/>
<text x="1388.0" y="256" font-size="13.3" fill="#cc1a22" stroke="#cc1a22" stroke-width="0.3" text-anchor="start" font-weight="normal" textLength="108.3" lengthAdjust="spacingAndGlyphs">0.236 (86,421.6)</text>
<line x1="678" y1="318.0" x2="1506.5" y2="318.0" stroke="#6e6e6e" stroke-opacity="0.6" stroke-width="1.8" stroke-dasharray="5 4"/>
<text x="1416.2" y="308" font-size="13.3" fill="#787878" stroke="#787878" stroke-width="0.3" text-anchor="start" font-weight="normal" textLength="80.1" lengthAdjust="spacingAndGlyphs">0 (85,853.7)</text>
<line x1="678.5" y1="100" x2="765" y2="316" stroke="#8a8a8a" stroke-width="1" stroke-dasharray="4 4"/>
<line x1="12" y1="56" x2="1506.5" y2="56" stroke="#ff0000" stroke-width="2.2"/>
<line x1="677.5" y1="153.8" x2="1506.5" y2="153.8" stroke="#ff0000" stroke-width="2.2"/>
<line x1="12" y1="288.5" x2="1506.5" y2="288.5" stroke="#1f9d2a" stroke-width="2.2"/>
<line x1="12" y1="318" x2="1506.5" y2="318" stroke="#1f9d2a" stroke-width="2.2"/>
<line x1="12" y1="414" x2="1506.5" y2="414" stroke="#1f9d2a" stroke-width="2.2"/>
<line x1="262.5" y1="69.8" x2="1161.5" y2="127" stroke="#0a00ff" stroke-width="3" stroke-linecap="round"/>
<text x="22.5" y="57" font-size="14" fill="#131722" stroke="#131722" stroke-width="0.3" text-anchor="start" font-weight="normal" textLength="229" lengthAdjust="spacingAndGlyphs">Bitcoin / U.S. Dollar · 1h · KRAKEN</text>
<text x="261.5" y="57" font-size="14" textLength="66" lengthAdjust="spacingAndGlyphs"><tspan fill="#131722" stroke="#131722" stroke-width="0.3">O</tspan><tspan fill="#4a0808" stroke="#4a0808" stroke-width="0.3">87,226.5</tspan></text>
<text x="337.4" y="57" font-size="14" textLength="65" lengthAdjust="spacingAndGlyphs"><tspan fill="#131722" stroke="#131722" stroke-width="0.3">H</tspan><tspan fill="#4a0808" stroke="#4a0808" stroke-width="0.3">87,310.1</tspan></text>
<text x="413" y="57" font-size="14" textLength="64.5" lengthAdjust="spacingAndGlyphs"><tspan fill="#131722" stroke="#131722" stroke-width="0.3">L</tspan><tspan fill="#4a0808" stroke="#4a0808" stroke-width="0.3">86,915.7</tspan></text>
<text x="486.5" y="57" font-size="14" textLength="66" lengthAdjust="spacingAndGlyphs"><tspan fill="#131722" stroke="#131722" stroke-width="0.3">C</tspan><tspan fill="#4a0808" stroke="#4a0808" stroke-width="0.3">87,077.9</tspan></text>
<text x="563" y="57" font-size="14" fill="#4a0808" stroke="#4a0808" stroke-width="0.3" text-anchor="start" font-weight="normal" textLength="102" lengthAdjust="spacingAndGlyphs">−148.5 (−0.17%)</text>
<text x="22.5" y="78" font-size="14" fill="#131722" stroke="#131722" stroke-width="0.3" text-anchor="start" font-weight="normal" textLength="187.5" lengthAdjust="spacingAndGlyphs">MA (100, close, 0, SMA, 100)</text>
<text x="219" y="78" font-size="14" fill="#f23645" stroke="#f23645" stroke-width="0.3" text-anchor="start" font-weight="normal" textLength="56.4" lengthAdjust="spacingAndGlyphs">87,299.5</text>
<g transform="translate(1064.5,445.5)">
<circle cx="0" cy="0" r="13" fill="#ffffff"/>
<path d="M -7.9 -9.6 A 12.3 12.3 0 1 1 -9.3 8.2" fill="none" stroke="#8e10a8" stroke-width="1.5"/>
<path d="M 3.9 -6.6 L -4.5 0.2 L 4.8 -1.2 L -3.5 6.0" fill="none" stroke="#8e10a8" stroke-width="1.7" stroke-linejoin="miter" stroke-miterlimit="10"/>
<path d="M -12.9 -2.2 Q -11.6 2.6 -6.8 4.1 Q -11.6 5.6 -12.9 10.6 Q -14.2 5.6 -19 4.1 Q -14.2 2.6 -12.9 -2.2 Z" fill="#7256ff" stroke="#ffffff" stroke-width="2" paint-order="stroke"/>
</g>
</g>
<g clip-path="url(#rsi)">
<rect x="12" y="484" width="1494.5" height="62" fill="#f3e8fc"/>
<line x1="12" y1="484" x2="1506.5" y2="484" stroke="#c4bccc" stroke-width="1" stroke-dasharray="4 5" stroke-dashoffset="5.1"/>
<line x1="12" y1="515.5" x2="1506.5" y2="515.5" stroke="#9f99a8" stroke-width="1" stroke-dasharray="4 5" stroke-dashoffset="5.1"/>
<line x1="12" y1="546" x2="1506.5" y2="546" stroke="#c4bccc" stroke-width="1" stroke-dasharray="4 5" stroke-dashoffset="5.1"/>
<line x1="118.5" y1="461.5" x2="118.5" y2="552.5" stroke="#d8d4e0" stroke-width="1"/>
<line x1="234.5" y1="461.5" x2="234.5" y2="552.5" stroke="#d8d4e0" stroke-width="1"/>
<line x1="350.5" y1="461.5" x2="350.5" y2="552.5" stroke="#d8d4e0" stroke-width="1"/>
<line x1="466.5" y1="461.5" x2="466.5" y2="552.5" stroke="#d8d4e0" stroke-width="1"/>
<line x1="582.5" y1="461.5" x2="582.5" y2="552.5" stroke="#d8d4e0" stroke-width="1"/>
<line x1="697.5" y1="461.5" x2="697.5" y2="552.5" stroke="#d8d4e0" stroke-width="1"/>
<line x1="813.5" y1="461.5" x2="813.5" y2="552.5" stroke="#d8d4e0" stroke-width="1"/>
<line x1="929.5" y1="461.5" x2="929.5" y2="552.5" stroke="#d8d4e0" stroke-width="1"/>
<line x1="1045.5" y1="461.5" x2="1045.5" y2="552.5" stroke="#d8d4e0" stroke-width="1"/>
<line x1="1161.5" y1="461.5" x2="1161.5" y2="552.5" stroke="#d8d4e0" stroke-width="1"/>
<line x1="1277.5" y1="461.5" x2="1277.5" y2="552.5" stroke="#d8d4e0" stroke-width="1"/>
<line x1="1392.5" y1="461.5" x2="1392.5" y2="552.5" stroke="#d8d4e0" stroke-width="1"/>
<text x="22.5" y="486" font-size="14.2" fill="#131722" stroke="#131722" stroke-width="0.3" text-anchor="start" font-weight="normal" textLength="172" lengthAdjust="spacingAndGlyphs">RSI (14, close, SMA, 14, 2)</text>
<text x="205.9" y="486" font-size="14.2" fill="#7e1fa2" stroke="#7e1fa2" stroke-width="0.3" text-anchor="start" font-weight="normal" textLength="34.4" lengthAdjust="spacingAndGlyphs">47.93</text>
<text x="252" y="486" font-size="14.2" fill="#fdd835" stroke="#fdd835" stroke-width="0.3" text-anchor="start" font-weight="normal" textLength="33.8" lengthAdjust="spacingAndGlyphs">48.98</text>
<text x="294.8" y="486" font-size="14.2" fill="#131722" stroke="#131722" stroke-width="0.3" text-anchor="start" font-weight="normal" textLength="9" lengthAdjust="spacingAndGlyphs">∅</text>
<text x="313.9" y="486" font-size="14.2" fill="#131722" stroke="#131722" stroke-width="0.3" text-anchor="start" font-weight="normal" textLength="9" lengthAdjust="spacingAndGlyphs">∅</text>
<polyline points="12.40,504.00 45.00,496.60 90.00,489.90 112.50,483.10 157.50,479.75 202.50,477.00 247.50,476.40 292.50,477.50 326.30,483.10 350.00,489.80 372.50,494.75 395.00,502.60 417.50,510.50 440.00,515.45 462.50,517.25 485.00,516.10 507.50,512.75 530.00,508.25 552.50,504.90 575.00,504.20 597.50,504.90 620.00,508.25 642.50,508.90 665.00,509.40 687.50,509.40 700.00,509.80 723.75,513.20 747.50,517.50 771.30,520.35 795.00,522.70 818.80,524.60 833.00,524.60 854.40,521.10 878.10,516.30 901.90,512.30 925.70,513.50 949.40,515.10 973.20,517.50 996.90,518.70 1020.70,518.20 1044.40,517.50 1064.60,515.80" fill="none" stroke="#fdd835" stroke-width="1.2" stroke-linejoin="round" stroke-linecap="round"/>
<polyline points="12.40,476.40 22.50,485.40 31.50,478.60 40.50,476.40 50.60,492.10 59.60,492.60 69.75,492.60 79.90,487.60 90.00,486.50 99.00,479.75 109.10,466.70 118.10,469.60 127.80,492.80 137.30,486.50 146.30,476.40 157.50,471.20 166.50,470.30 175.50,468.00 185.60,477.00 195.30,470.75 204.75,477.50 214.90,472.30 225.00,477.50 234.00,488.75 244.10,483.10 254.30,479.75 264.40,476.40 273.40,484.25 282.40,479.75 292.50,478.60 301.50,484.25 311.60,496.60 320.60,493.25 330.80,509.00 339.80,507.90 349.90,505.60 359.00,516.80 369.10,521.75 379.25,527.40 388.25,527.40 398.40,522.40 407.40,525.10 417.00,528.00 427.60,520.00 436.60,509.40 446.75,511.00 456.90,506.00 465.90,513.20 475.60,502.00 485.00,496.55 495.10,501.50 505.30,501.00 514.90,498.10 524.40,501.50 533.40,497.00 543.50,503.30 552.50,505.60 562.60,512.30 572.80,514.55 581.80,509.40 591.90,504.90 600.90,517.70 610.60,522.40 620.00,517.90 629.00,512.75 639.20,504.90 649.30,498.80 658.30,504.20 668.00,505.30 678.10,498.80 687.50,506.00 697.70,511.00 708.30,530.60 716.60,531.30 726.10,532.90 735.60,536.50 745.10,536.50 755.80,541.70 765.30,531.30 774.80,513.90 784.30,515.60 793.80,521.80 803.30,521.10 813.50,512.75 823.50,509.20 833.00,505.60 842.50,504.40 852.00,509.20 861.50,513.90 871.00,512.75 880.50,511.60 890.00,510.90 900.70,511.10 910.20,518.70 919.70,525.10 929.20,529.40 938.70,538.40 948.90,513.20 957.70,519.40 967.20,522.30 976.70,521.10 987.40,513.20 996.90,517.50 1006.40,510.90 1016.60,505.20 1025.40,509.20 1034.90,513.90 1044.90,510.40 1055.10,513.90 1064.60,518.00" fill="none" stroke="#8e1ba0" stroke-width="1.3" stroke-linejoin="round" stroke-linecap="round"/>
</g>
<g clip-path="url(#macd)">
<line x1="12" y1="602.9" x2="1506.5" y2="602.9" stroke="#d2d2d2" stroke-width="1" stroke-dasharray="4 5" stroke-dashoffset="5.1"/>
<text x="22.5" y="576" font-size="14.2" fill="#131722" stroke="#131722" stroke-width="0.3" text-anchor="start" font-weight="normal" textLength="227.3" lengthAdjust="spacingAndGlyphs">MACD (12, 26, close, 9, EMA, EMA)</text>
<text x="259.9" y="576" font-size="14.2" fill="#acdcd6" stroke="#acdcd6" stroke-width="0.3" text-anchor="start" font-weight="normal" textLength="27.7" lengthAdjust="spacingAndGlyphs">18.9</text>
<text x="297" y="576" font-size="14.2" fill="#2962ff" stroke="#2962ff" stroke-width="0.3" text-anchor="start" font-weight="normal" textLength="20.3" lengthAdjust="spacingAndGlyphs">4.7</text>
<text x="327.4" y="576" font-size="14.2" fill="#ff6d00" stroke="#ff6d00" stroke-width="0.3" text-anchor="start" font-weight="normal" textLength="35" lengthAdjust="spacingAndGlyphs">−14.2</text>
<line x1="12.5" y1="602.9" x2="12.5" y2="597.80" stroke="#26a69a" stroke-width="1"/>
<line x1="21.5" y1="602.9" x2="21.5" y2="597.60" stroke="#26a69a" stroke-width="1"/>
<line x1="31.5" y1="602.9" x2="31.5" y2="597.39" stroke="#26a69a" stroke-width="1"/>
<line x1="41.5" y1="602.9" x2="41.5" y2="597.18" stroke="#26a69a" stroke-width="1"/>
<line x1="50.5" y1="602.9" x2="50.5" y2="598.12" stroke="#b2dfdb" stroke-width="1"/>
<line x1="60.5" y1="602.9" x2="60.5" y2="598.84" stroke="#b2dfdb" stroke-width="1"/>
<line x1="69.5" y1="602.9" x2="69.5" y2="599.43" stroke="#b2dfdb" stroke-width="1"/>
<line x1="79.5" y1="602.9" x2="79.5" y2="599.66" stroke="#b2dfdb" stroke-width="1"/>
<line x1="89.5" y1="602.9" x2="89.5" y2="599.89" stroke="#b2dfdb" stroke-width="1"/>
<line x1="98.5" y1="602.9" x2="98.5" y2="600.34" stroke="#b2dfdb" stroke-width="1"/>
<line x1="108.5" y1="602.9" x2="108.5" y2="599.07" stroke="#26a69a" stroke-width="1"/>
<line x1="118.5" y1="602.9" x2="118.5" y2="598.09" stroke="#26a69a" stroke-width="1"/>
<line x1="127.5" y1="602.9" x2="127.5" y2="599.13" stroke="#b2dfdb" stroke-width="1"/>
<line x1="137.5" y1="602.9" x2="137.5" y2="599.30" stroke="#b2dfdb" stroke-width="1"/>
<line x1="147.5" y1="602.9" x2="147.5" y2="597.11" stroke="#26a69a" stroke-width="1"/>
<line x1="156.5" y1="602.9" x2="156.5" y2="595.18" stroke="#26a69a" stroke-width="1"/>
<line x1="166.5" y1="602.9" x2="166.5" y2="594.85" stroke="#26a69a" stroke-width="1"/>
<line x1="176.5" y1="602.9" x2="176.5" y2="594.64" stroke="#26a69a" stroke-width="1"/>
<line x1="185.5" y1="602.9" x2="185.5" y2="594.74" stroke="#b2dfdb" stroke-width="1"/>
<line x1="195.5" y1="602.9" x2="195.5" y2="594.94" stroke="#b2dfdb" stroke-width="1"/>
<line x1="205.5" y1="602.9" x2="205.5" y2="595.51" stroke="#b2dfdb" stroke-width="1"/>
<line x1="214.5" y1="602.9" x2="214.5" y2="596.12" stroke="#b2dfdb" stroke-width="1"/>
<line x1="224.5" y1="602.9" x2="224.5" y2="596.38" stroke="#b2dfdb" stroke-width="1"/>
<line x1="234.5" y1="602.9" x2="234.5" y2="598.20" stroke="#b2dfdb" stroke-width="1"/>
<line x1="243.5" y1="602.9" x2="243.5" y2="599.50" stroke="#b2dfdb" stroke-width="1"/>
<line x1="253.5" y1="602.9" x2="253.5" y2="599.66" stroke="#b2dfdb" stroke-width="1"/>
<line x1="263.5" y1="602.9" x2="263.5" y2="599.11" stroke="#26a69a" stroke-width="1"/>
<line x1="272.5" y1="602.9" x2="272.5" y2="599.29" stroke="#b2dfdb" stroke-width="1"/>
<line x1="282.5" y1="602.9" x2="282.5" y2="599.65" stroke="#b2dfdb" stroke-width="1"/>
<line x1="292.5" y1="602.9" x2="292.5" y2="599.48" stroke="#26a69a" stroke-width="1"/>
<line x1="301.5" y1="602.9" x2="301.5" y2="601.17" stroke="#b2dfdb" stroke-width="1"/>
<line x1="311.5" y1="602.9" x2="311.5" y2="602.97" stroke="#ff5252" stroke-width="1"/>
<line x1="321.5" y1="602.9" x2="321.5" y2="604.80" stroke="#ff5252" stroke-width="1"/>
<line x1="330.5" y1="602.9" x2="330.5" y2="608.05" stroke="#ff5252" stroke-width="1"/>
<line x1="340.5" y1="602.9" x2="340.5" y2="610.29" stroke="#ff5252" stroke-width="1"/>
<line x1="349.5" y1="602.9" x2="349.5" y2="610.70" stroke="#ff5252" stroke-width="1"/>
<line x1="359.5" y1="602.9" x2="359.5" y2="612.30" stroke="#ff5252" stroke-width="1"/>
<line x1="369.5" y1="602.9" x2="369.5" y2="613.91" stroke="#ff5252" stroke-width="1"/>
<line x1="378.5" y1="602.9" x2="378.5" y2="615.63" stroke="#ff5252" stroke-width="1"/>
<line x1="388.5" y1="602.9" x2="388.5" y2="617.52" stroke="#ff5252" stroke-width="1"/>
<line x1="398.5" y1="602.9" x2="398.5" y2="617.15" stroke="#ffcdd2" stroke-width="1"/>
<line x1="407.5" y1="602.9" x2="407.5" y2="616.57" stroke="#ffcdd2" stroke-width="1"/>
<line x1="417.5" y1="602.9" x2="417.5" y2="615.99" stroke="#ffcdd2" stroke-width="1"/>
<line x1="427.5" y1="602.9" x2="427.5" y2="615.02" stroke="#ffcdd2" stroke-width="1"/>
<line x1="436.5" y1="602.9" x2="436.5" y2="611.35" stroke="#ffcdd2" stroke-width="1"/>
<line x1="446.5" y1="602.9" x2="446.5" y2="608.15" stroke="#ffcdd2" stroke-width="1"/>
<line x1="456.5" y1="602.9" x2="456.5" y2="606.32" stroke="#ffcdd2" stroke-width="1"/>
<line x1="465.5" y1="602.9" x2="465.5" y2="605.80" stroke="#ffcdd2" stroke-width="1"/>
<line x1="475.5" y1="602.9" x2="475.5" y2="602.98" stroke="#ffcdd2" stroke-width="1"/>
<line x1="485.5" y1="602.9" x2="485.5" y2="600.19" stroke="#26a69a" stroke-width="1"/>
<line x1="494.5" y1="602.9" x2="494.5" y2="599.67" stroke="#26a69a" stroke-width="1"/>
<line x1="504.5" y1="602.9" x2="504.5" y2="599.15" stroke="#26a69a" stroke-width="1"/>
<line x1="514.5" y1="602.9" x2="514.5" y2="598.77" stroke="#26a69a" stroke-width="1"/>
<line x1="523.5" y1="602.9" x2="523.5" y2="598.75" stroke="#26a69a" stroke-width="1"/>
<line x1="533.5" y1="602.9" x2="533.5" y2="598.62" stroke="#26a69a" stroke-width="1"/>
<line x1="543.5" y1="602.9" x2="543.5" y2="599.56" stroke="#b2dfdb" stroke-width="1"/>
<line x1="552.5" y1="602.9" x2="552.5" y2="600.64" stroke="#b2dfdb" stroke-width="1"/>
<line x1="562.5" y1="602.9" x2="562.5" y2="602.20" stroke="#b2dfdb" stroke-width="1"/>
<line x1="572.5" y1="602.9" x2="572.5" y2="603.75" stroke="#ff5252" stroke-width="1"/>
<line x1="581.5" y1="602.9" x2="581.5" y2="603.73" stroke="#ffcdd2" stroke-width="1"/>
<line x1="591.5" y1="602.9" x2="591.5" y2="603.27" stroke="#ffcdd2" stroke-width="1"/>
<line x1="601.5" y1="602.9" x2="601.5" y2="604.38" stroke="#ff5252" stroke-width="1"/>
<line x1="610.5" y1="602.9" x2="610.5" y2="605.58" stroke="#ff5252" stroke-width="1"/>
<line x1="620.5" y1="602.9" x2="620.5" y2="606.23" stroke="#ff5252" stroke-width="1"/>
<line x1="630.5" y1="602.9" x2="630.5" y2="605.76" stroke="#ffcdd2" stroke-width="1"/>
<line x1="639.5" y1="602.9" x2="639.5" y2="603.92" stroke="#ffcdd2" stroke-width="1"/>
<line x1="649.5" y1="602.9" x2="649.5" y2="602.56" stroke="#26a69a" stroke-width="1"/>
<line x1="658.5" y1="602.9" x2="658.5" y2="601.88" stroke="#26a69a" stroke-width="1"/>
<line x1="668.5" y1="602.9" x2="668.5" y2="601.19" stroke="#26a69a" stroke-width="1"/>
<line x1="678.5" y1="602.9" x2="678.5" y2="600.86" stroke="#26a69a" stroke-width="1"/>
<line x1="687.5" y1="602.9" x2="687.5" y2="601.88" stroke="#b2dfdb" stroke-width="1"/>
<line x1="697.5" y1="602.9" x2="697.5" y2="602.89" stroke="#b2dfdb" stroke-width="1"/>
<line x1="707.5" y1="602.9" x2="707.5" y2="606.02" stroke="#ff5252" stroke-width="1"/>
<line x1="716.5" y1="602.9" x2="716.5" y2="608.77" stroke="#ff5252" stroke-width="1"/>
<line x1="726.5" y1="602.9" x2="726.5" y2="610.91" stroke="#ff5252" stroke-width="1"/>
<line x1="736.5" y1="602.9" x2="736.5" y2="612.93" stroke="#ff5252" stroke-width="1"/>
<line x1="745.5" y1="602.9" x2="745.5" y2="613.80" stroke="#ff5252" stroke-width="1"/>
<line x1="755.5" y1="602.9" x2="755.5" y2="614.38" stroke="#ff5252" stroke-width="1"/>
<line x1="765.5" y1="602.9" x2="765.5" y2="613.11" stroke="#ffcdd2" stroke-width="1"/>
<line x1="774.5" y1="602.9" x2="774.5" y2="609.27" stroke="#ffcdd2" stroke-width="1"/>
<line x1="784.5" y1="602.9" x2="784.5" y2="605.59" stroke="#ffcdd2" stroke-width="1"/>
<line x1="794.5" y1="602.9" x2="794.5" y2="604.82" stroke="#ffcdd2" stroke-width="1"/>
<line x1="803.5" y1="602.9" x2="803.5" y2="603.78" stroke="#ffcdd2" stroke-width="1"/>
<line x1="813.5" y1="602.9" x2="813.5" y2="602.97" stroke="#ffcdd2" stroke-width="1"/>
<line x1="823.5" y1="602.9" x2="823.5" y2="601.05" stroke="#26a69a" stroke-width="1"/>
<line x1="832.5" y1="602.9" x2="832.5" y2="599.23" stroke="#26a69a" stroke-width="1"/>
<line x1="842.5" y1="602.9" x2="842.5" y2="597.41" stroke="#26a69a" stroke-width="1"/>
<line x1="852.5" y1="602.9" x2="852.5" y2="597.30" stroke="#26a69a" stroke-width="1"/>
<line x1="861.5" y1="602.9" x2="861.5" y2="598.35" stroke="#b2dfdb" stroke-width="1"/>
<line x1="871.5" y1="602.9" x2="871.5" y2="599.28" stroke="#b2dfdb" stroke-width="1"/>
<line x1="881.5" y1="602.9" x2="881.5" y2="599.55" stroke="#b2dfdb" stroke-width="1"/>
<line x1="890.5" y1="602.9" x2="890.5" y2="599.82" stroke="#b2dfdb" stroke-width="1"/>
<line x1="900.5" y1="602.9" x2="900.5" y2="600.13" stroke="#b2dfdb" stroke-width="1"/>
<line x1="910.5" y1="602.9" x2="910.5" y2="601.52" stroke="#b2dfdb" stroke-width="1"/>
<line x1="919.5" y1="602.9" x2="919.5" y2="603.55" stroke="#ff5252" stroke-width="1"/>
<line x1="929.5" y1="602.9" x2="929.5" y2="605.60" stroke="#ff5252" stroke-width="1"/>
<line x1="939.5" y1="602.9" x2="939.5" y2="607.62" stroke="#ff5252" stroke-width="1"/>
<line x1="948.5" y1="602.9" x2="948.5" y2="605.38" stroke="#ffcdd2" stroke-width="1"/>
<line x1="958.5" y1="602.9" x2="958.5" y2="604.85" stroke="#ffcdd2" stroke-width="1"/>
<line x1="967.5" y1="602.9" x2="967.5" y2="605.04" stroke="#ff5252" stroke-width="1"/>
<line x1="977.5" y1="602.9" x2="977.5" y2="605.21" stroke="#ff5252" stroke-width="1"/>
<line x1="987.5" y1="602.9" x2="987.5" y2="604.39" stroke="#ffcdd2" stroke-width="1"/>
<line x1="996.5" y1="602.9" x2="996.5" y2="602.90" stroke="#26a69a" stroke-width="1"/>
<line x1="1006.5" y1="602.9" x2="1006.5" y2="602.54" stroke="#26a69a" stroke-width="1"/>
<line x1="1016.5" y1="602.9" x2="1016.5" y2="600.71" stroke="#26a69a" stroke-width="1"/>
<line x1="1025.5" y1="602.9" x2="1025.5" y2="600.24" stroke="#26a69a" stroke-width="1"/>
<line x1="1035.5" y1="602.9" x2="1035.5" y2="600.19" stroke="#26a69a" stroke-width="1"/>
<line x1="1045.5" y1="602.9" x2="1045.5" y2="600.32" stroke="#b2dfdb" stroke-width="1"/>
<line x1="1054.5" y1="602.9" x2="1054.5" y2="600.87" stroke="#b2dfdb" stroke-width="1"/>
<line x1="1064.5" y1="602.9" x2="1064.5" y2="602.19" stroke="#b2dfdb" stroke-width="1"/>
<polyline points="12.40,599.00 45.00,593.90 96.75,590.05 117.00,586.45 146.25,581.50 180.00,574.75 213.75,567.55 247.50,563.00 281.25,559.50 303.75,558.55 326.25,560.80 348.75,565.30 383.75,579.25 417.50,591.60 444.50,597.25 465.90,598.40 485.00,597.70 518.75,593.90 552.50,591.00 586.25,592.30 620.00,595.70 642.50,596.80 676.30,595.00 697.70,593.90 711.90,595.60 735.60,600.35 759.40,607.50 783.10,611.30 804.50,613.00 818.80,611.75 842.50,608.90 866.30,606.30 890.00,604.20 909.00,602.70 928.00,603.40 949.40,605.80 973.20,607.00 996.90,607.50 1020.70,605.80 1044.40,604.20 1064.60,603.40" fill="none" stroke="#ff6d00" stroke-width="1.3" stroke-linejoin="round" stroke-linecap="round"/>
<polyline points="12.40,593.90 41.60,588.70 67.50,588.70 99.00,587.10 117.00,581.50 135.00,580.40 157.50,571.40 177.80,566.90 198.00,563.00 222.80,559.50 234.00,560.10 247.50,560.10 265.50,557.20 292.50,555.60 303.80,557.20 321.80,562.40 337.50,570.25 350.00,573.60 368.00,583.75 389.40,596.10 417.50,604.70 427.60,605.80 440.00,603.55 455.75,601.30 465.90,601.30 485.00,595.00 512.00,590.50 534.50,588.25 552.50,588.70 572.80,592.75 591.90,593.20 617.80,599.05 631.30,599.05 649.30,596.10 676.30,592.75 697.70,593.90 719.00,603.40 738.00,611.30 754.60,617.70 764.10,618.90 784.30,614.10 802.10,614.10 814.00,612.20 842.50,603.40 852.00,602.25 871.00,602.25 890.00,601.10 900.70,600.60 909.00,601.10 928.00,605.80 938.70,609.40 947.00,608.20 961.30,608.20 973.20,609.40 982.70,609.40 996.90,607.50 1006.40,606.50 1018.30,603.40 1032.50,602.25 1046.80,601.50 1056.30,601.80 1064.60,602.70" fill="none" stroke="#2962ff" stroke-width="1.3" stroke-linejoin="round" stroke-linecap="round"/>
</g>
<line x1="12" y1="624.5" x2="1587" y2="624.5" stroke="#50535e" stroke-width="1"/>
<g clip-path="url(#taxis)">
<text x="118.25" y="645" font-size="13" fill="#131722" stroke="#131722" stroke-width="0.3" text-anchor="middle" font-weight="normal">24</text>
<text x="234.1" y="645" font-size="13" fill="#131722" stroke="#131722" stroke-width="0.3" text-anchor="middle" font-weight="normal">12:00</text>
<text x="350" y="645" font-size="13" fill="#131722" stroke="#131722" stroke-width="0.3" text-anchor="middle" font-weight="normal">25</text>
<text x="465.9" y="645" font-size="13" fill="#131722" stroke="#131722" stroke-width="0.3" text-anchor="middle" font-weight="normal">12:00</text>
<text x="581.7" y="645" font-size="13" fill="#131722" stroke="#131722" stroke-width="0.3" text-anchor="middle" font-weight="normal">26</text>
<text x="697.6" y="645" font-size="13" fill="#131722" stroke="#131722" stroke-width="0.3" text-anchor="middle" font-weight="normal">12:00</text>
<text x="813.5" y="645" font-size="13" fill="#131722" stroke="#131722" stroke-width="0.3" text-anchor="middle" font-weight="normal">27</text>
<text x="929.3" y="645" font-size="13" fill="#131722" stroke="#131722" stroke-width="0.3" text-anchor="middle" font-weight="normal">12:00</text>
<text x="1045.2" y="645" font-size="13" fill="#131722" stroke="#131722" stroke-width="0.3" text-anchor="middle" font-weight="normal">28</text>
<text x="1161.1" y="645" font-size="13" fill="#131722" stroke="#131722" stroke-width="0.3" text-anchor="middle" font-weight="normal">12:00</text>
<text x="1276.9" y="645" font-size="13" fill="#131722" stroke="#131722" stroke-width="0.3" text-anchor="middle" font-weight="normal">29</text>
<text x="1392.8" y="645" font-size="13" fill="#131722" stroke="#131722" stroke-width="0.3" text-anchor="middle" font-weight="normal">12:00</text>
<text x="1508.7" y="645" font-size="13" fill="#131722" stroke="#131722" stroke-width="0.3" text-anchor="middle" font-weight="normal">30</text>
</g>
<line x1="1506.5" y1="33" x2="1506.5" y2="658" stroke="#9598a1" stroke-width="1"/>
<rect x="1511.5" y="39" width="70" height="30.5" rx="6" fill="#ffffff" stroke="#eceef2" stroke-width="1"/>
<text x="1523.6" y="58.6" font-size="13.3" fill="#131722" stroke="#131722" stroke-width="0.3" text-anchor="start" font-weight="normal" textLength="24.4" lengthAdjust="spacingAndGlyphs">USD</text>
<text x="1518" y="90.2" font-size="13.8" fill="#131722" stroke="#131722" stroke-width="0.3" text-anchor="start" font-weight="normal" textLength="52.5" lengthAdjust="spacingAndGlyphs">88,400.0</text>
<text x="1518" y="126.5" font-size="13.8" fill="#131722" stroke="#131722" stroke-width="0.3" text-anchor="start" font-weight="normal" textLength="52.5" lengthAdjust="spacingAndGlyphs">88,000.0</text>
<text x="1518" y="162.9" font-size="13.8" fill="#131722" stroke="#131722" stroke-width="0.3" text-anchor="start" font-weight="normal" textLength="52.5" lengthAdjust="spacingAndGlyphs">87,600.0</text>
<text x="1518" y="199.20000000000002" font-size="13.8" fill="#131722" stroke="#131722" stroke-width="0.3" text-anchor="start" font-weight="normal" textLength="52.5" lengthAdjust="spacingAndGlyphs">87,200.0</text>
<text x="1518" y="235.5" font-size="13.8" fill="#131722" stroke="#131722" stroke-width="0.3" text-anchor="start" font-weight="normal" textLength="52.5" lengthAdjust="spacingAndGlyphs">86,800.0</text>
<text x="1518" y="271.8" font-size="13.8" fill="#131722" stroke="#131722" stroke-width="0.3" text-anchor="start" font-weight="normal" textLength="52.5" lengthAdjust="spacingAndGlyphs">86,400.0</text>
<text x="1518" y="308.2" font-size="13.8" fill="#131722" stroke="#131722" stroke-width="0.3" text-anchor="start" font-weight="normal" textLength="52.5" lengthAdjust="spacingAndGlyphs">86,000.0</text>
<text x="1518" y="344.5" font-size="13.8" fill="#131722" stroke="#131722" stroke-width="0.3" text-anchor="start" font-weight="normal" textLength="52.5" lengthAdjust="spacingAndGlyphs">85,600.0</text>
<text x="1518" y="380.8" font-size="13.8" fill="#131722" stroke="#131722" stroke-width="0.3" text-anchor="start" font-weight="normal" textLength="52.5" lengthAdjust="spacingAndGlyphs">85,200.0</text>
<text x="1518" y="417.2" font-size="13.8" fill="#131722" stroke="#131722" stroke-width="0.3" text-anchor="start" font-weight="normal" textLength="52.5" lengthAdjust="spacingAndGlyphs">84,800.0</text>
<text x="1518" y="453.5" font-size="13.8" fill="#131722" stroke="#131722" stroke-width="0.3" text-anchor="start" font-weight="normal" textLength="52.5" lengthAdjust="spacingAndGlyphs">84,400.0</text>
<text x="1518" y="480.1" font-size="13.8" fill="#131722" stroke="#131722" stroke-width="0.3" text-anchor="start" font-weight="normal" textLength="33" lengthAdjust="spacingAndGlyphs">75.00</text>
<text x="1518" y="519.6" font-size="13.8" fill="#131722" stroke="#131722" stroke-width="0.3" text-anchor="start" font-weight="normal" textLength="33" lengthAdjust="spacingAndGlyphs">50.00</text>
<text x="1518" y="607.3" font-size="13.8" fill="#131722" stroke="#131722" stroke-width="0.3" text-anchor="start" font-weight="normal" textLength="16.5" lengthAdjust="spacingAndGlyphs">0.0</text>
<path d="M 1506.5 144.9 H 1573 Q 1575 144.9 1575 146.9 V 160.5 Q 1575 162.5 1573 162.5 H 1506.5 Z" fill="#ff0000"/>
<text x="1518" y="157.5" font-size="13.3" fill="#ffffff" text-anchor="start" font-weight="bold" textLength="52.5" lengthAdjust="spacingAndGlyphs">87,670.7</text>
<path d="M 1506.5 198 H 1573 Q 1575 198 1575 200 V 229.7 Q 1575 231.7 1573 231.7 H 1506.5 Z" fill="#ff0000"/>
<text x="1518" y="209.79999999999998" font-size="13.3" fill="#ffffff" text-anchor="start" font-weight="bold" textLength="52.5" lengthAdjust="spacingAndGlyphs">87,077.9</text>
<text x="1518" y="226.2" font-size="13.3" fill="#ffd6d6" text-anchor="start" font-weight="bold" textLength="33" lengthAdjust="spacingAndGlyphs">25:34</text>
<path d="M 1506.5 279.4 H 1573 Q 1575 279.4 1575 281.4 V 295.5 Q 1575 297.5 1573 297.5 H 1506.5 Z" fill="#4caf50"/>
<text x="1518" y="292.4" font-size="13.3" fill="#ffffff" text-anchor="start" font-weight="bold" textLength="52.5" lengthAdjust="spacingAndGlyphs">86,185.8</text>
<path d="M 1506.5 309 H 1573 Q 1575 309 1575 311 V 324.9 Q 1575 326.9 1573 326.9 H 1506.5 Z" fill="#4caf50"/>
<text x="1518" y="321.9" font-size="13.3" fill="#ffffff" text-anchor="start" font-weight="bold" textLength="52.5" lengthAdjust="spacingAndGlyphs">85,854.5</text>
<path d="M 1506.5 405 H 1573 Q 1575 405 1575 407 V 421.3 Q 1575 423.3 1573 423.3 H 1506.5 Z" fill="#4caf50"/>
<text x="1518" y="418.09999999999997" font-size="13.3" fill="#ffffff" text-anchor="start" font-weight="bold" textLength="52.5" lengthAdjust="spacingAndGlyphs">84,799.4</text>
<g fill="#131722">
<path d="M12.4 673.3 H22.1 V685.4 H16.8 V677.9 H12.4 Z"/>
<circle cx="26" cy="675.8" r="2.3"/>
<path d="M28.7 673.5 H36.1 L31.2 685.3 H26 Z"/>
</g>
<text x="40.9" y="685.8" font-size="15.3" fill="#131722" stroke="#131722" stroke-width="0.3" text-anchor="start" font-weight="normal" textLength="86.6" lengthAdjust="spacingAndGlyphs">TradingView</text>
</svg>
</body></html>
